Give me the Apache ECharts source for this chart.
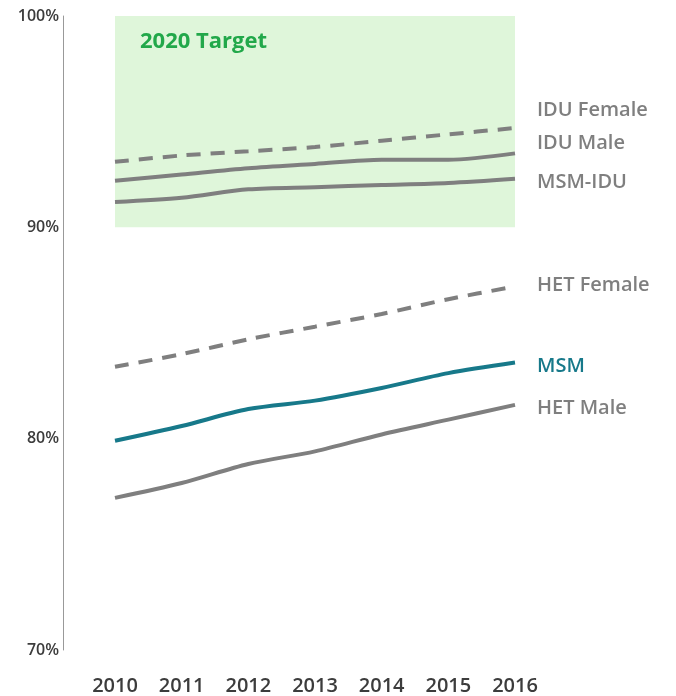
<!DOCTYPE html>
<html>
<head>
<meta charset="utf-8">
<script src="https://cdn.jsdelivr.net/npm/echarts@6/dist/echarts.min.js"></script>
<style>
html,body{margin:0;padding:0;background:#fff;}
#chart1{width:676px;height:696px;}
</style>
</head>
<body>
<div id="chart1"></div>
<script>
var years = ['2010', '2011', '2012', '2013', '2014', '2015', '2016'];
var iduFemale = [93.1, 93.4, 93.6, 93.8, 94.1, 94.4, 94.7];
var iduMale = [92.2, 92.5, 92.8, 93.0, 93.2, 93.2, 93.5];
var msmIdu = [91.2, 91.4, 91.8, 91.9, 92.0, 92.1, 92.3];
var hetFemale = [83.4, 84.0, 84.7, 85.3, 85.9, 86.6, 87.2];
var msm = [79.9, 80.6, 81.4, 81.8, 82.4, 83.1, 83.6];
var hetMale = [77.2, 77.9, 78.8, 79.4, 80.2, 80.9, 81.6];
var targetRange = [90, 100];

var gray = '#7f7f7f';
var teal = '#17798a';
var font = 'Open Sans';

function line(name, data, color, dashed, dy) {
	return {
		name: name,
		type: 'line',
		data: data,
		symbol: 'none',
		smooth: 0.3,
		lineStyle: {
			color: color,
			width: 4,
			type: dashed ? [14, 10] : 'solid'
		},
		endLabel: {
			show: true,
			formatter: name,
			color: color,
			fontFamily: font,
			fontWeight: 600,
			fontSize: 20,
			distance: 22,
			offset: [0, dy]
		}
	};
}

var series = [
	line('IDU Female', iduFemale, gray, true, -18),
	line('IDU Male', iduMale, gray, false, -10),
	line('MSM-IDU', msmIdu, gray, false, 4),
	line('HET Female', hetFemale, gray, true, -1),
	line('MSM', msm, teal, false, 4),
	line('HET Male', hetMale, gray, false, 3)
];
series[0].markArea = {
	silent: true,
	itemStyle: { color: '#dff6da' },
	label: {
		show: true,
		position: 'insideTopLeft',
		distance: 0,
		offset: [25, 15],
		color: '#22a84a',
		fontFamily: font,
		fontWeight: 'bold',
		fontSize: 22
	},
	data: [[
		{ name: '2020 Target', xAxis: years[0], yAxis: targetRange[0] },
		{ xAxis: years[years.length - 1], yAxis: targetRange[1] }
	]]
};

var option = {
	animation: false,
	grid: { left: 115, right: 161, top: 16, bottom: 46 },
	xAxis: {
		type: 'category',
		data: years,
		boundaryGap: false,
		axisLine: { show: false },
		axisTick: { show: false },
		axisLabel: { color: '#3c3c3c', fontFamily: font, fontWeight: 600, fontSize: 20, margin: 26 }
	},
	yAxis: {
		type: 'value',
		min: 70,
		max: 100,
		interval: 10,
		offset: 52,
		splitLine: { show: false },
		axisTick: { show: false },
		axisLine: { show: true, lineStyle: { color: '#999', width: 1 } },
		axisLabel: {
			color: '#3c3c3c',
			fontFamily: font,
			fontWeight: 600,
			fontSize: 16,
			margin: 4,
			formatter: '{value}%'
		}
	},
	series: series
};
var chart1 = echarts.init(document.getElementById('chart1'));
chart1.setOption(option);
</script>
</body>
</html>
